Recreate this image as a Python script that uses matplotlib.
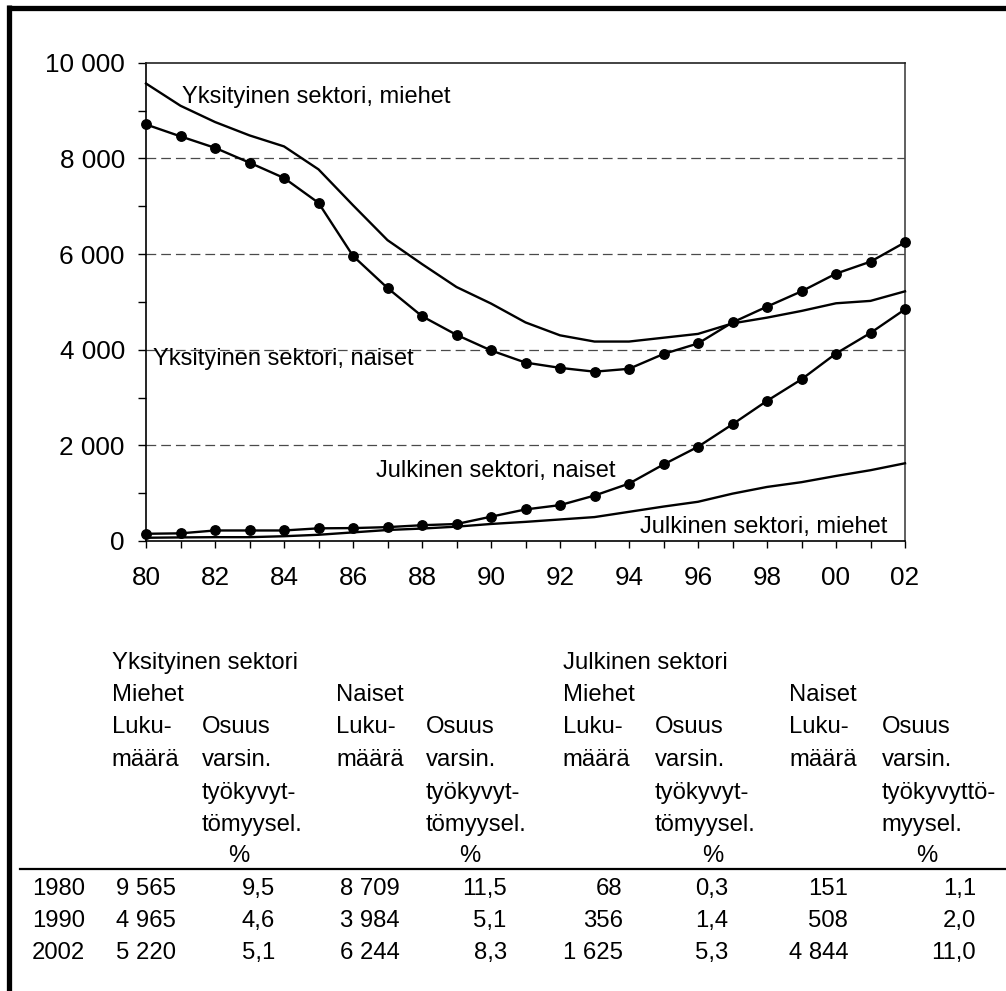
import matplotlib
matplotlib.use("Agg")
import matplotlib.pyplot as plt
from matplotlib.lines import Line2D
from matplotlib.ticker import FixedLocator, FuncFormatter

plt.rcParams['font.family'] = ['Liberation Sans', 'DejaVu Sans']
plt.rcParams['lines.scale_dashes'] = False

# ---------------- data ----------------
years = list(range(1980, 2003))
yks_miehet = [9565, 9100, 8760, 8480, 8250, 7770, 7020, 6290, 5790, 5310, 4965, 4570,
              4300, 4170, 4170, 4250, 4330, 4550, 4670, 4810, 4970, 5020, 5220]
yks_naiset = [8709, 8460, 8220, 7910, 7590, 7070, 5960, 5290, 4700, 4310, 3984, 3730,
              3620, 3540, 3600, 3910, 4130, 4570, 4900, 5220, 5590, 5840, 6244]
julk_naiset = [151, 160, 220, 220, 220, 265, 270, 290, 330, 355, 508, 660,
               750, 950, 1200, 1600, 1970, 2440, 2930, 3380, 3920, 4350, 4844]
julk_miehet = [68, 75, 80, 80, 100, 130, 180, 230, 260, 300, 356, 400,
               450, 500, 610, 720, 820, 990, 1130, 1230, 1360, 1480, 1625]

series_labels = ["Yksityinen sektori, miehet", "Yksityinen sektori, naiset",
                 "Julkinen sektori, naiset", "Julkinen sektori, miehet"]

table_years = ["1980", "1990", "2002"]
table_rows = [
    ["9 565", "9,5", "8 709", "11,5", "68", "0,3", "151", "1,1"],
    ["4 965", "4,6", "3 984", "5,1", "356", "1,4", "508", "2,0"],
    ["5 220", "5,1", "6 244", "8,3", "1 625", "5,3", "4 844", "11,0"],
]
group_headers = ["Yksityinen sektori", "Julkinen sektori"]
sex_headers = ["Miehet", "Naiset", "Miehet", "Naiset"]
count_header = ["Luku-", "määrä"]
share_header = ["Osuus", "varsin.", "työkyvyt-", "tömyysel."]
share_header_last = ["Osuus", "varsin.", "työkyvyttö-", "myysel."]

W, H = 1006, 991
fig = plt.figure(figsize=(W / 100, H / 100), dpi=100)

def fx(x):
    return x / W

def fy(y):
    return 1 - y / H

# ---------------- chart ----------------
ax = fig.add_axes([fx(146), fy(541), fx(905) - fx(146), fy(62.7) - fy(541)])
ax.set_xlim(1980, 2002)
ax.set_ylim(0, 10000)

lw = 1.7
ax.plot(years, yks_miehet, color='black', lw=lw, clip_on=False, zorder=3)
ax.plot(years, yks_naiset, color='black', lw=lw, marker='o', markersize=6.8, clip_on=False, zorder=3)
ax.plot(years, julk_naiset, color='black', lw=lw, marker='o', markersize=6.8, clip_on=False, zorder=3)
ax.plot(years, julk_miehet, color='black', lw=lw, clip_on=False, zorder=3)

for yv in [2000, 4000, 6000, 8000]:
    ax.axhline(yv, color='#4a4a4a', lw=0.9, dashes=(7, 3.6), zorder=1)

ax.yaxis.set_major_locator(FixedLocator([0, 2000, 4000, 6000, 8000, 10000]))
ax.yaxis.set_minor_locator(FixedLocator([1000, 3000, 5000, 7000, 9000]))
ax.yaxis.set_major_formatter(FuncFormatter(lambda v, p: f"{int(v):,}".replace(",", " ")))
ax.xaxis.set_major_locator(FixedLocator(list(range(1980, 2003, 2))))
ax.xaxis.set_minor_locator(FixedLocator(list(range(1981, 2003, 2))))
ax.xaxis.set_major_formatter(FuncFormatter(lambda v, p: f"{int(round(v)) % 100:02d}"))

ax.tick_params(axis='y', which='both', direction='out', length=5.8, width=1, pad=9.5,
               labelsize=18.8)
ax.tick_params(axis='x', which='both', direction='out', length=5, width=1, pad=13,
               labelsize=18.8)
ax.tick_params(axis='y', which='minor', labelleft=False)

for s in ['left', 'bottom']:
    ax.spines[s].set_color('black')
    ax.spines[s].set_linewidth(1.2)
ax.spines['top'].set_color('#222222')
ax.spines['top'].set_linewidth(1.2)
ax.spines['right'].set_color('#444444')
ax.spines['right'].set_linewidth(1.2)

fs_ann = 17
ax.text(1981.03, 9160, series_labels[0], fontsize=fs_ann, va='baseline', ha='left')
ax.text(1980.21, 3680, series_labels[1], fontsize=fs_ann, va='baseline', ha='left')
ax.text(1986.66, 1330, series_labels[2], fontsize=fs_ann, va='baseline', ha='left')
ax.text(1994.33, 174, series_labels[3], fontsize=fs_ann, va='baseline', ha='left')

# ---------------- table ----------------
fs_t = 17.2
def t(x, y, s, ha='left'):
    fig.text(fx(x), fy(y), s, fontsize=fs_t, ha=ha, va='baseline')

group_x = [111.7, 562.7]
for gx, g in zip(group_x, group_headers):
    t(gx, 669.3, g)

count_x = [111.7, 336, 562.7, 789]
share_x = [201.7, 426, 655, 881.7]
pct_x = [239, 470, 712.3, 926.7]
for cx, sh in zip(count_x, sex_headers):
    t(cx, 701, sh)
for cx in count_x:
    for yy, s in zip([733.3, 766], count_header):
        t(cx, yy, s)
for i, sx in enumerate(share_x):
    hdr = share_header_last if i == 3 else share_header
    for yy, s in zip([733.3, 766, 799.3, 831], hdr):
        t(sx, yy, s)
for px in pct_x:
    t(px, 861.7, "%", ha='center')

fig.add_artist(Line2D([fx(20), fx(1006)], [fy(869.3), fy(869.3)], color='black', lw=1.6))

row_y = [895, 927.3, 959.3]
val_right = [176, 275, 400, 506.7, 622.7, 728.3, 848.3, 976]
for ry, yr, row in zip(row_y, table_years, table_rows):
    t(31.7, ry, yr)
    for vx, v in zip(val_right, row):
        t(vx, ry, v, ha='right')

# ---------------- frame ----------------
fig.add_artist(Line2D([fx(9), fx(9)], [fy(5), 0], color='black', lw=3.8, solid_capstyle='butt'))
fig.add_artist(Line2D([fx(6.5), 1], [fy(7.5), fy(7.5)], color='black', lw=3.8, solid_capstyle='butt'))

fig.savefig("out.png", dpi=100)
